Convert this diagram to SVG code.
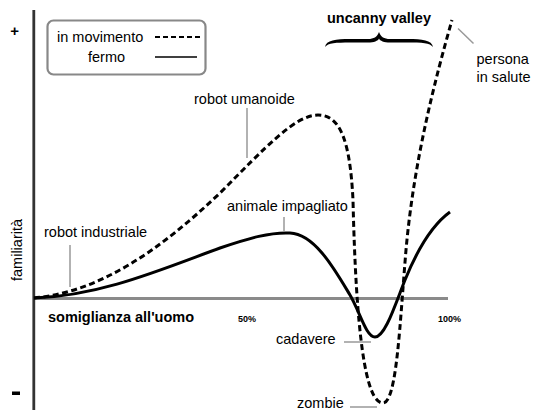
<svg xmlns="http://www.w3.org/2000/svg" width="533" height="410" viewBox="0 0 533 410">
<style>
text{font-family:"Liberation Sans",Arial,sans-serif;fill:#000}
.lbl{font-size:14.5px}
.b{font-weight:bold}
.small{font-size:9px;font-weight:bold}
.lead{stroke:#999;stroke-width:1.5;fill:none}
.dash{stroke:#000;stroke-width:3;fill:none;stroke-dasharray:6 3.5}
.solid{stroke:#000;stroke-width:3;fill:none}
</style>
<rect width="533" height="410" fill="#fff"/>
<g id="axes">
<line x1="34" y1="298.5" x2="448" y2="298.5" stroke="#8a8a8a" stroke-width="3"/>
<line x1="33.8" y1="10" x2="33.8" y2="410" stroke="#333" stroke-width="2.8"/>
<text x="14.7" y="35.5" class="b" font-size="15" text-anchor="middle">+</text>
<rect x="12" y="391.5" width="8" height="3.5" fill="#000"/>
<text transform="translate(22,250) rotate(-90)" class="lbl" text-anchor="middle">familiarità</text>
<text x="48" y="322" class="lbl b">somiglianza all'uomo</text>
<text x="238" y="322" class="small">50%</text>
<text x="438" y="322" class="small">100%</text>
</g>
<g id="legend">
<rect x="47.5" y="20.5" width="158" height="54" rx="6" fill="none" stroke="#888" stroke-width="2.2"/>
<text x="57" y="42" class="lbl">in movimento</text>
<text x="88" y="62" class="lbl">fermo</text>
<line x1="155" y1="37" x2="200" y2="37" stroke="#000" stroke-width="2" stroke-dasharray="5 3"/>
<line x1="155" y1="57" x2="197" y2="57" stroke="#000" stroke-width="1.5"/>
</g>
<g id="uncanny">
<text x="379" y="23" class="lbl b" text-anchor="middle">uncanny valley</text>
<path d="M325,47 C326,40 336,39 350,39 L368,39 C374,39 377,37 379,32 C381,37 384,39 390,39 L408,39 C422,39 432,40 433,47 C430,43 422,42.5 408,42.5 L390,42.5 C384,42.5 380,41 379,38.5 C378,41 374,42.5 368,42.5 L350,42.5 C336,42.5 328,43 325,47 Z" fill="#000"/>
</g>
<g id="connectors">
<path class="dash" d="M34,298 C100,292 160,250 220,193 C265,148 295,115 318,115 C340,115 350,140 353,200 C356,330 365,403 383,403 C397,403 400,320 406,250 C414,160 435,80 452,20"/>
<path class="solid" d="M34,298 C100,296 160,270 220,248 C250,238 270,232 290,233 C315,234 335,270 350,295 C360,312 366,337 375,337 C385,337 395,305 405,280 C418,248 432,225 450,212"/>
<line class="lead" x1="70" y1="245" x2="70" y2="287"/>
<line class="lead" x1="247" y1="108" x2="247" y2="158"/>
<line class="lead" x1="284" y1="217" x2="284" y2="231"/>
<line class="lead" x1="458" y1="28.5" x2="473.5" y2="43.5"/>
<line class="lead" x1="344" y1="342" x2="371" y2="342"/>
<line class="lead" x1="350" y1="407" x2="377" y2="407"/>
</g>
<g id="robot-industriale"><text x="44" y="237" class="lbl">robot industriale</text></g>
<g id="robot-umanoide"><text x="194" y="104" class="lbl">robot umanoide</text></g>
<g id="animale-impagliato"><text x="227" y="211" class="lbl">animale impagliato</text></g>
<g id="persona-in-salute"><text x="476.5" y="64" class="lbl">persona</text><text x="476.5" y="82" class="lbl">in salute</text></g>
<g id="cadavere"><text x="276" y="344" class="lbl">cadavere</text></g>
<g id="zombie"><text x="297" y="408" class="lbl">zombie</text></g>
</svg>
